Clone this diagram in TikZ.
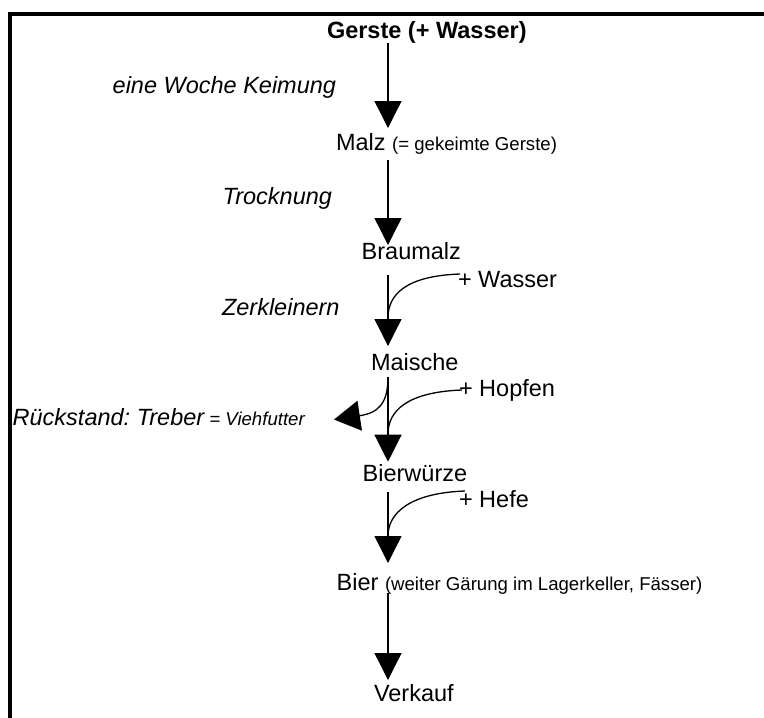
\documentclass[tikz,border=0pt]{standalone}
\usepackage{fontspec}
\setmainfont{Liberation Sans}
\usetikzlibrary{arrows.meta}
\frenchspacing
\newcommand\bigf{\fontsize{23.5}{28}\selectfont}
\newcommand\smallf{\fontsize{18.6}{22}\selectfont}
\begin{document}
\begin{tikzpicture}[x=1pt,y=-1pt,
  lbl/.style={anchor=base west,inner sep=0pt,outer sep=0pt,font=\bigf},
  ilbl/.style={lbl,font=\bigf\itshape},
  flow/.style={line width=1.3pt,-{Triangle[length=27pt,width=27pt]}},
  feed/.style={line width=1.3pt},
  frame/.style={line width=4.5pt}]
\clip (0,0) rectangle (764,718);
\draw[frame] (10,760) -- (10,14) -- (800,14);
% texts
\node[lbl,font=\bigf\bfseries] (gerste) at (327,38.3) {Gerste (+ Wasser)};
\node[ilbl] (keim) at (112.7,93.3) {eine Woche Keimung};
\node[lbl] (malz) at (336,150) {Malz {\smallf(= gekeimte Gerste)}};
\node[ilbl] (trock) at (222.7,204) {Trocknung};
\node[lbl] (braumalz) at (361.7,259) {Braumalz};
\node[lbl] (wasser) at (458,287.7) {+ Wasser};
\node[ilbl] (zerk) at (222,315) {Zerkleinern};
\node[lbl] (maische) at (371,370.7) {Maische};
\node[lbl] (hopfen) at (459,396.7) {+ Hopfen};
\node[ilbl] (treber) at (12.7,425) {Rückstand: Treber{\smallf{} = Viehfutter}};
\node[lbl] (wuerze) at (362.7,481) {Bierwürze};
\node[lbl] (hefe) at (459,507.7) {+ Hefe};
\node[lbl] (bier) at (336.7,590.7) {Bier {\smallf(weiter Gärung im Lagerkeller, Fässer)}};
\node[lbl] (verkauf) at (374,701) {Verkauf};
% connector end points
\coordinate (a1s) at (388,43);   \coordinate (a1e) at (388,128);
\coordinate (a2s) at (388,159.5);\coordinate (a2e) at (388,245);
\coordinate (a3s) at (388,275);  \coordinate (a3e) at (388,346);
\coordinate (a4s) at (388,377);  \coordinate (a4e) at (388,461.7);
\coordinate (a5s) at (388,491.7);\coordinate (a5e) at (388,563);
\coordinate (a6s) at (388,593);  \coordinate (a6e) at (388,680);
\coordinate (wS) at (460,274);   \coordinate (wE) at (388,318);
\coordinate (hS) at (462,390);   \coordinate (hE) at (388,434);
\coordinate (fS) at (465,491);   \coordinate (fE) at (388,536);
\coordinate (tE) at (334,419.5);
% main flow
\draw[flow] (a1s) -- (a1e);
\draw[flow] (a2s) -- (a2e);
\draw[flow] (a3s) -- (a3e);
\draw[flow] (a4s) -- (a4e);
\draw[flow] (a5s) -- (a5e);
\draw[flow] (a6s) -- (a6e);
% feeds
\draw[feed] (wS) .. controls (405,276) and (388,295) .. (wE);
\draw[feed] (hS) .. controls (407,392) and (388,411) .. (hE);
\draw[feed] (fS) .. controls (410,493) and (388,513) .. (fE);
% residue
\draw[line width=1.3pt,-{Triangle[length=26pt,width=30pt]}] (a4s) .. controls (388,404) and (378,413) .. (tE);
\end{tikzpicture}
\end{document}
